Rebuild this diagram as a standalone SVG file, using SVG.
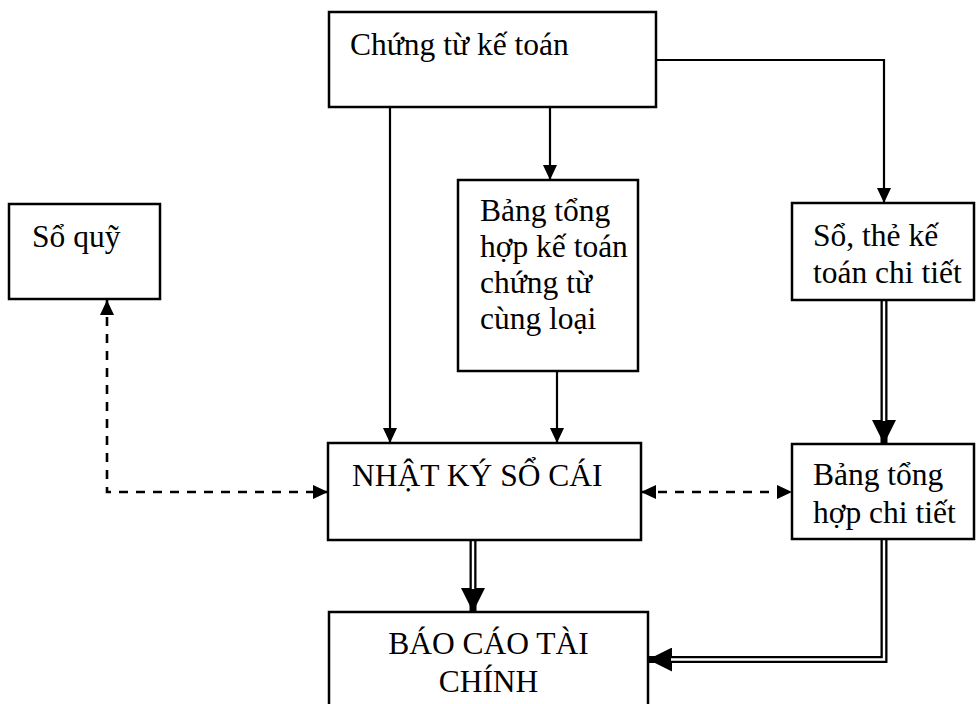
<svg xmlns="http://www.w3.org/2000/svg" width="977" height="704" viewBox="0 0 977 704">
  <style>
    .box { fill: #fff; stroke: #000; stroke-width: 2.5; }
    .lbl { font-family: "Liberation Serif", "DejaVu Serif", serif; font-size: 31.5px; fill: #000; }
    .mid { text-anchor: middle; }
    .solid { fill: none; stroke: #000; stroke-width: 2.2; }
    .dash { fill: none; stroke: #000; stroke-width: 2.6; stroke-dasharray: 9 8; }
    .dbl-outer { fill: none; stroke: #000; stroke-width: 7; stroke-linejoin: miter; }
    .dbl-inner { fill: none; stroke: #fff; stroke-width: 2.4; stroke-linejoin: miter; }
  </style>
  <defs>
    <marker id="tri" viewBox="0 0 15 14" refX="15" refY="7" markerWidth="15" markerHeight="14" markerUnits="userSpaceOnUse" orient="auto-start-reverse">
      <path d="M0,0 L15,7 L0,14 Z" fill="#000"/>
    </marker>
    <marker id="big" viewBox="0 0 24 24" refX="24" refY="12" markerWidth="24" markerHeight="24" markerUnits="userSpaceOnUse" orient="auto">
      <path d="M0,0 L24,12 L0,24 Z" fill="#000"/>
    </marker>
  </defs>

  <rect width="977" height="704" fill="#fff"/>

  <!-- connectors -->
  <g id="connectors">
    <line class="solid" x1="390" y1="107" x2="390" y2="443" marker-end="url(#tri)"/>
    <line class="solid" x1="550" y1="107" x2="550" y2="180" marker-end="url(#tri)"/>
    <path class="solid" d="M656,60 H884 V203" marker-end="url(#tri)"/>
    <line class="solid" x1="557" y1="371" x2="557" y2="443" marker-end="url(#tri)"/>

    <path class="dash" d="M107,300 V492 H328" marker-start="url(#tri)" marker-end="url(#tri)"/>
    <line class="dash" x1="641" y1="492" x2="792" y2="492" marker-start="url(#tri)" marker-end="url(#tri)"/>

    <!-- double-line flows -->
    <line class="dbl-outer" x1="884" y1="300" x2="884" y2="444" marker-end="url(#big)"/>
    <line class="dbl-inner" x1="884" y1="300" x2="884" y2="421"/>

    <line class="dbl-outer" x1="473" y1="540" x2="473" y2="612" marker-end="url(#big)"/>
    <line class="dbl-inner" x1="473" y1="540" x2="473" y2="589"/>

    <path class="dbl-outer" d="M884,539 V659.5 H648" marker-end="url(#big)"/>
    <path class="dbl-inner" d="M884,539 V659.5 H671"/>
  </g>

  <!-- nodes -->
  <g id="chung-tu">
    <rect class="box" x="329" y="12" width="327" height="95"/>
    <text class="lbl" x="350" y="55">Chứng từ kế toán</text>
  </g>

  <g id="so-quy">
    <rect class="box" x="9" y="204" width="151" height="95"/>
    <text class="lbl" x="32" y="247">Sổ quỹ</text>
  </g>

  <g id="bang-tong-hop-ct">
    <rect class="box" x="458" y="180" width="180" height="191"/>
    <text class="lbl" x="480" y="221">Bảng tổng</text>
    <text class="lbl" x="480" y="257">hợp kế toán</text>
    <text class="lbl" x="480" y="293">chứng từ</text>
    <text class="lbl" x="480" y="329">cùng loại</text>
  </g>

  <g id="so-the">
    <rect class="box" x="792" y="203" width="182" height="97"/>
    <text class="lbl" x="813" y="246">Sổ, thẻ kế</text>
    <text class="lbl" x="813" y="283">toán chi tiết</text>
  </g>

  <g id="nhat-ky">
    <rect class="box" x="328" y="443" width="313" height="97"/>
    <text class="lbl" x="352" y="486">NHẬT KÝ SỔ CÁI</text>
  </g>

  <g id="bang-tong-hop-chi-tiet">
    <rect class="box" x="792" y="444" width="182" height="95"/>
    <text class="lbl" x="813" y="485">Bảng tổng</text>
    <text class="lbl" x="813" y="523">hợp chi tiết</text>
  </g>

  <g id="bao-cao">
    <rect class="box" x="329" y="612" width="319" height="100"/>
    <text class="lbl mid" x="488.5" y="654">BÁO CÁO TÀI</text>
    <text class="lbl mid" x="488.5" y="692">CHÍNH</text>
  </g>
</svg>
